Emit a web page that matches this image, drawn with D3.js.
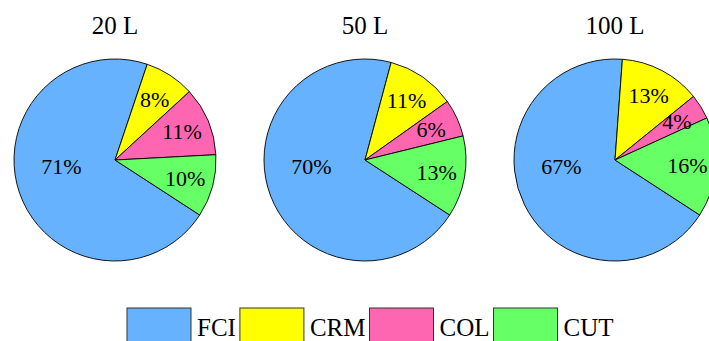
<!DOCTYPE html>
<html>
<head>
<meta charset="utf-8">
<script src="https://cdn.jsdelivr.net/npm/d3@7"></script>
<style>
  body { margin: 0; background: #fff; }
  svg { display: block; font-family: "Liberation Serif", "Times New Roman", serif; }
</style>
</head>
<body>
<script>
const categories = ["FCI", "CRM", "COL", "CUT"];
const volumes = ["20 L", "50 L", "100 L"];
const shares20 = [71, 8, 11, 10];
const shares50 = [70, 11, 6, 13];
const shares100 = [67, 13, 4, 16];
const allShares = [shares20, shares50, shares100];

const colors = ["#66b2ff", "#ffff00", "#ff66b2", "#66ff66"];

const w = 709;
const h = 341;
const R = 101;

let svg = d3.select("body").append("svg")
  .attr("width", w)
  .attr("height", h);

let color = d3.scaleOrdinal().domain(categories).range(colors);

// centres of the three pies
let xPos = d3.scalePoint().domain(volumes).range([115, 615]);
const cy = 160;

// first slice starts at the lower right and runs clockwise
const start = 123 * Math.PI / 180;
let pie = d3.pie()
  .sort(null)
  .value(d => d.v)
  .startAngle(start)
  .endAngle(start + 2 * Math.PI);

let arc = d3.arc().innerRadius(0).outerRadius(R);
let labelArc = d3.arc().innerRadius(R * 0.72).outerRadius(R * 0.72);

volumes.forEach((vol, k) => {
  let data = categories.map((c, i) => ({ c: c, v: allShares[k][i] }));
  let g = svg.append("g")
    .attr("transform", `translate(${xPos(vol)},${cy})`);

  g.append("text")
    .attr("x", 0)
    .attr("y", -126)
    .attr("text-anchor", "middle")
    .style("font-size", "25px")
    .text(vol);

  let slices = pie(data);

  g.selectAll("path")
    .data(slices)
    .enter()
    .append("path")
    .attr("d", arc)
    .attr("fill", d => color(d.data.c))
    .attr("stroke", "#000")
    .attr("stroke-width", 0.9);

  g.selectAll("text.pct")
    .data(slices)
    .enter()
    .append("text")
    .attr("class", "pct")
    .attr("text-anchor", "middle")
    .attr("dominant-baseline", "central")
    .style("font-size", "22px")
    .attr("transform", (d, i) => {
      if (i === 0) {
        // the big slice carries its label left of centre
        return `translate(${-R * 0.53},${6})`;
      }
      let p = labelArc.centroid(d);
      return `translate(${p[0]},${p[1]})`;
    })
    .text(d => d.data.v + "%");
});

// legend
let legend = svg.append("g").attr("transform", "translate(127,308)");
let lx = 0;
categories.forEach((c) => {
  legend.append("rect")
    .attr("x", lx)
    .attr("y", 0)
    .attr("width", 64)
    .attr("height", 38)
    .attr("fill", color(c))
    .attr("stroke", "#333")
    .attr("stroke-width", 1);
  lx += 70;
  let t = legend.append("text")
    .attr("x", lx)
    .attr("y", 28)
    .style("font-size", "25px")
    .text(c);
  lx += t.node().getComputedTextLength() + 4;
});
</script>
</body>
</html>
